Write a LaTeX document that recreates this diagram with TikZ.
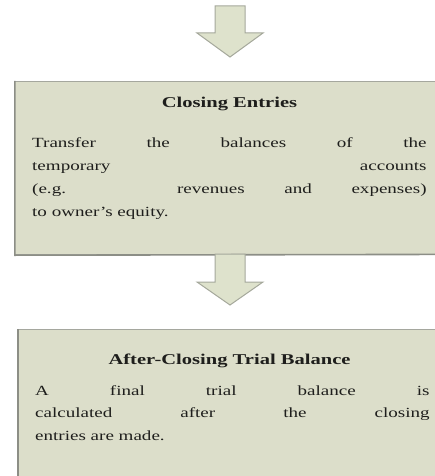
\documentclass[tikz,border=0pt]{standalone}
\usepackage{fontspec}
\setmainfont{Liberation Serif}
\definecolor{boxfill}{RGB}{220,222,202}
\definecolor{bordergray}{RGB}{165,167,158}
\definecolor{shadowgray}{RGB}{140,142,134}
\definecolor{arrowfill}{RGB}{222,226,204}
\definecolor{arrowline}{RGB}{165,168,155}
\definecolor{textcol}{RGB}{30,30,28}
\newcommand\jline[1]{\scalebox{1.36}[1]{\makebox[290pt][s]{#1}}}
\newcommand\lline[1]{\scalebox{1.36}[1]{#1}}
\begin{document}
\begin{tikzpicture}[x=1pt,y=1pt,
  box/.style={draw=bordergray, line width=1.2pt, fill=boxfill, anchor=north west, inner sep=0pt},
  blockarrow/.style={draw=arrowline, line width=1pt, fill=arrowfill, line join=miter},
  body/.style={anchor=base west, inner sep=0pt, font=\fontsize{14}{16}\selectfont, text=textcol},
  head/.style={anchor=base, inner sep=0pt, font=\fontsize{15}{17}\selectfont\bfseries, text=textcol}]
\useasboundingbox (0,0) rectangle (435,-476);
% first arrow
\draw[blockarrow] (215,-6) -- (245,-6) -- (245,-33) -- (263,-33) -- (230,-57) -- (197,-33) -- (215,-33) -- cycle;
% box 1
\node[box, minimum width=430pt, minimum height=173pt] (b1) at (14,-81) {};
\draw[shadowgray, line width=1.6pt] ([xshift=0.8pt]b1.north west) -- ([xshift=0.8pt]b1.south west) -- ([yshift=0.8pt]b1.south east);
\node[head] (h1) at (229.5,-107) {\scalebox{1.37}[1]{Closing Entries}};
\node[body] (l11) at (32,-147) {\jline{Transfer the balances of the}};
\node[body] (l12) at (32,-170) {\jline{temporary accounts}};
\node[body] (l13) at (32,-193) {\jline{(e.g. revenues and expenses)}};
\node[body] (l14) at (32,-216) {\lline{to owner's equity.}};
% second arrow
\draw[blockarrow] (215,-254) -- (245,-254) -- (245,-282) -- (263,-282) -- (230,-305) -- (197,-282) -- (215,-282) -- cycle;
% box 2
\node[box, minimum width=430pt, minimum height=160pt] (b2) at (17,-329) {};
\draw[shadowgray, line width=1.6pt] ([xshift=0.8pt]b2.north west) -- ([xshift=0.8pt]b2.south west);
\node[head] (h2) at (229.5,-364) {\scalebox{1.37}[1]{After-Closing Trial Balance}};
\node[body] (l21) at (35,-395) {\jline{A final trial balance is}};
\node[body] (l22) at (35,-417) {\jline{calculated after the closing}};
\node[body] (l23) at (35,-440) {\lline{entries are made.}};
\end{tikzpicture}
\end{document}
